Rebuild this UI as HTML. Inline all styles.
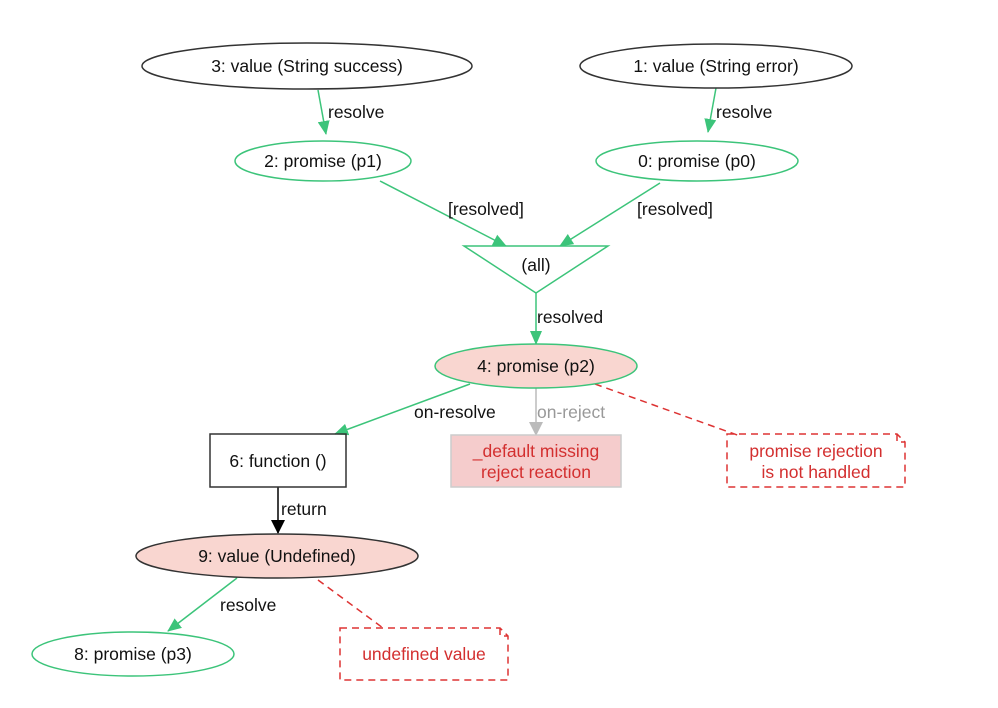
<!DOCTYPE html>
<html><head><meta charset="utf-8"><style>body{margin:0;background:#fff}svg{display:block}text{font-family:"Liberation Sans",sans-serif;font-size:17.5px}</style></head><body>
<svg width="998" height="708" viewBox="0 0 998 708">
<defs>
<marker id="g" markerWidth="14" markerHeight="14" refX="13" refY="7" orient="auto" markerUnits="userSpaceOnUse"><path d="M0,1 L14,7 L0,13z" fill="#3cc47a"/></marker>
<marker id="gr" markerWidth="14" markerHeight="14" refX="13" refY="7" orient="auto" markerUnits="userSpaceOnUse"><path d="M0,0 L14,7 L0,14z" fill="#bbb"/></marker>
<marker id="b" markerWidth="14" markerHeight="14" refX="13" refY="7" orient="auto" markerUnits="userSpaceOnUse"><path d="M0,0 L14,7 L0,14z" fill="#000"/></marker>
</defs>
<g fill="none" stroke-width="1.5">
<line x1="318" y1="90" x2="326" y2="134" stroke="#3cc47a" marker-end="url(#g)"/>
<line x1="716" y1="88" x2="708" y2="132" stroke="#3cc47a" marker-end="url(#g)"/>
<line x1="380" y1="181" x2="506" y2="246" stroke="#3cc47a" marker-end="url(#g)"/>
<line x1="660" y1="183" x2="560" y2="246" stroke="#3cc47a" marker-end="url(#g)"/>
<line x1="536" y1="293" x2="536" y2="344" stroke="#3cc47a" marker-end="url(#g)"/>
<line x1="470" y1="384" x2="335" y2="434" stroke="#3cc47a" marker-end="url(#g)"/>
<line x1="536" y1="388" x2="536" y2="435" stroke="#bbb" marker-end="url(#gr)"/>
<line x1="278" y1="487" x2="278" y2="533" stroke="#000" marker-end="url(#b)"/>
<line x1="237" y1="578" x2="168" y2="631" stroke="#3cc47a" marker-end="url(#g)"/>
<line x1="595" y1="384" x2="740" y2="436" stroke="#d33" stroke-dasharray="7,5"/>
<line x1="318" y1="580" x2="383" y2="628" stroke="#d33" stroke-dasharray="7,5"/>
<ellipse cx="307" cy="66" rx="165" ry="23" stroke="#333"/>
<ellipse cx="716" cy="66" rx="136" ry="22" stroke="#333"/>
<ellipse cx="323" cy="161" rx="88" ry="20" stroke="#3cc47a"/>
<ellipse cx="697" cy="161" rx="101" ry="20" stroke="#3cc47a"/>
<polygon points="464,246 608,246 536,293" stroke="#3cc47a"/>
<ellipse cx="536" cy="366" rx="101" ry="22" fill="#f9d6d0" stroke="#3cc47a"/>
<rect x="210" y="434" width="136" height="53" stroke="#333"/>
<rect x="451" y="435" width="170" height="52" fill="#f5cccc" stroke="#ccc"/>
<path d="M727,434 H897 L905,442 V487 H727 Z M897,434 V442 H905" stroke="#d33" stroke-dasharray="7,5"/>
<ellipse cx="277" cy="556" rx="141" ry="22" fill="#f9d6d0" stroke="#333"/>
<ellipse cx="133" cy="654" rx="101" ry="22" stroke="#3cc47a"/>
<path d="M340,628 H500 L508,636 V680 H340 Z M500,628 V636 H508" stroke="#d33" stroke-dasharray="7,5"/>
</g>
<g text-anchor="middle" fill="#111">
<text x="307" y="72">3: value (String success)</text>
<text x="716" y="72">1: value (String error)</text>
<text x="323" y="167">2: promise (p1)</text>
<text x="697" y="167">0: promise (p0)</text>
<text x="536" y="271">(all)</text>
<text x="536" y="372">4: promise (p2)</text>
<text x="278" y="467">6: function ()</text>
<text x="277" y="562">9: value (Undefined)</text>
<text x="133" y="660">8: promise (p3)</text>
<g fill="#d32f2f"><text x="536" y="457">_default missing</text><text x="536" y="478">reject reaction</text>
<text x="816" y="457">promise rejection</text><text x="816" y="478">is not handled</text>
<text x="424" y="660">undefined value</text></g>
</g>
<g fill="#111">
<text x="328" y="118">resolve</text>
<text x="716" y="118">resolve</text>
<text x="448" y="215">[resolved]</text>
<text x="637" y="215">[resolved]</text>
<text x="537" y="323">resolved</text>
<text x="414" y="418">on-resolve</text>
<text x="537" y="418" fill="#999">on-reject</text>
<text x="281" y="515">return</text>
<text x="220" y="611">resolve</text>
</g>
</svg>
</body></html>
